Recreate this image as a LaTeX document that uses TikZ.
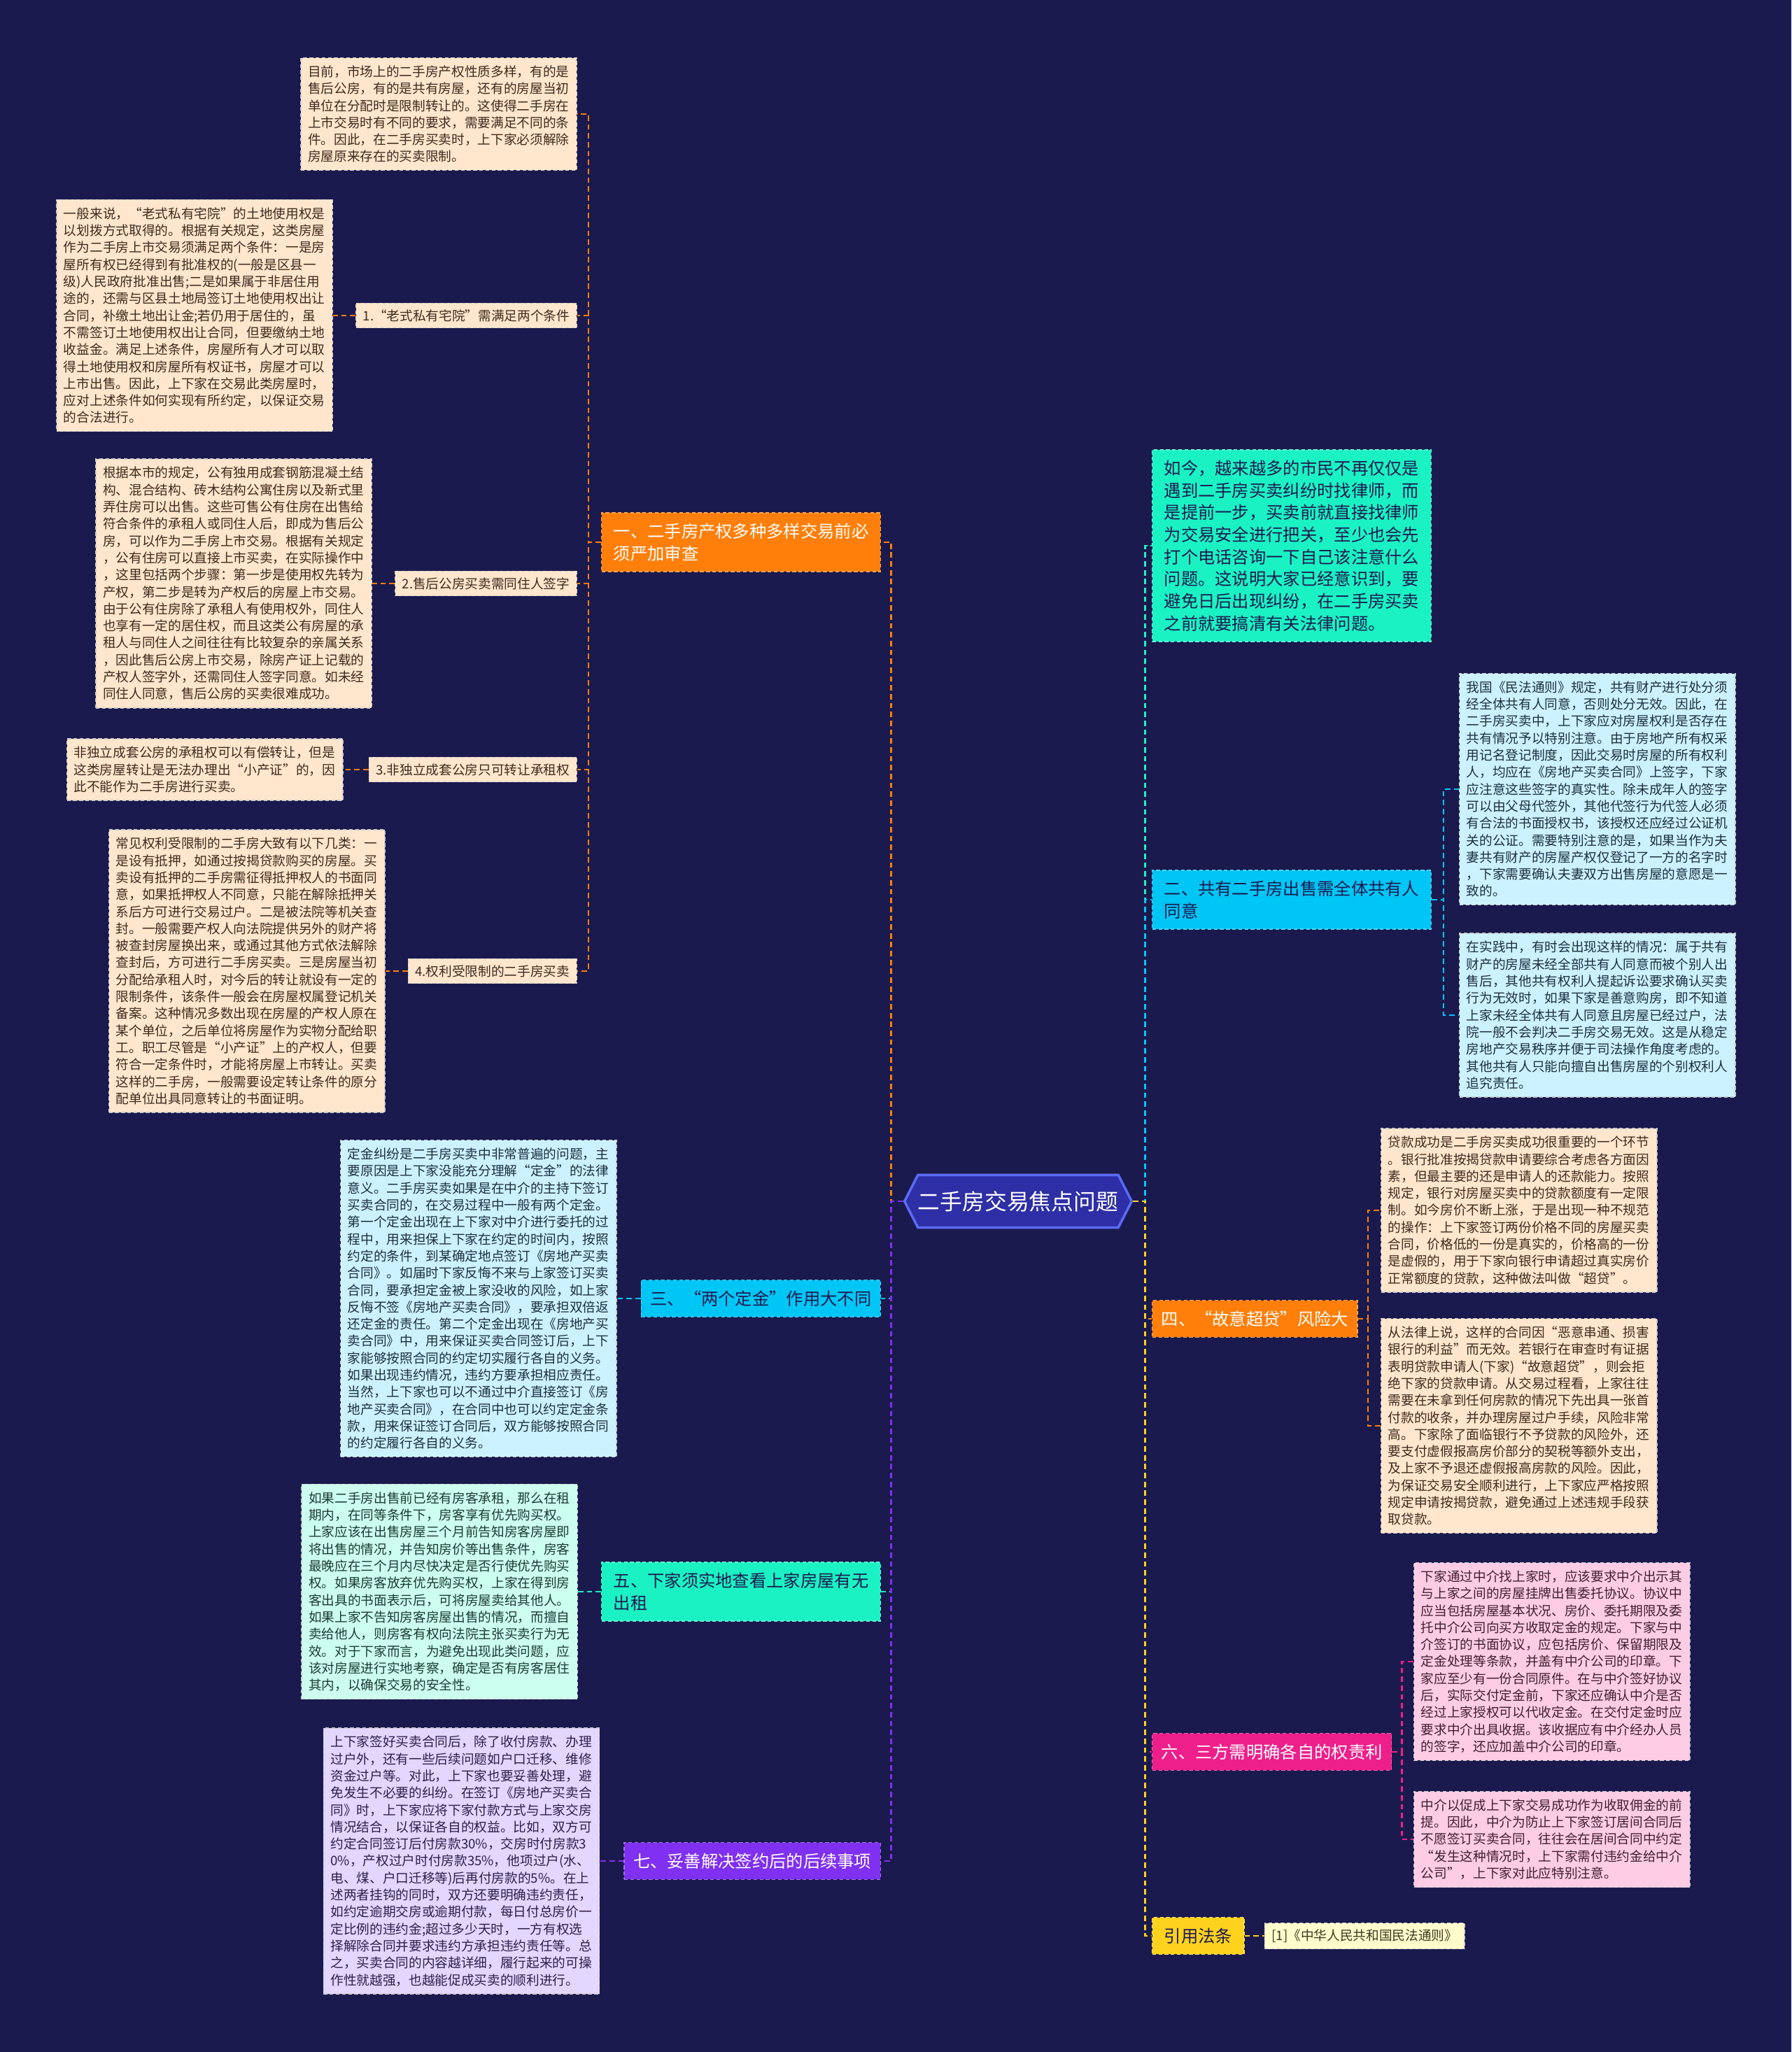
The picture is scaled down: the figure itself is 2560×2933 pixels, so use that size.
\documentclass[tikz,border=0pt]{standalone}
\usepackage{fontspec}
\setmainfont{Noto Sans CJK SC}
\usetikzlibrary{positioning, shapes.symbols}

\definecolor{bgNavy}{HTML}{1B1A4E}
\definecolor{rootFill}{HTML}{2E2EA6}
\definecolor{rootEdge}{HTML}{5B6BF5}
\definecolor{cOrange}{HTML}{FF7F0A}
\definecolor{cCyan}{HTML}{00C6F6}
\definecolor{cTurq}{HTML}{1AF2C4}
\definecolor{cPurple}{HTML}{7F30F0}
\definecolor{cMagenta}{HTML}{EE1F8A}
\definecolor{cYellow}{HTML}{FFD21E}
\definecolor{pPeach}{HTML}{FFE6CC}
\definecolor{pCyan}{HTML}{CCF2FF}
\definecolor{pMint}{HTML}{CCFFF0}
\definecolor{pLav}{HTML}{E3D6FF}
\definecolor{pPink}{HTML}{FFCCE6}
\definecolor{pYellow}{HTML}{FFFBCC}
\definecolor{tPeach}{HTML}{3D2B1F}
\definecolor{tCyan}{HTML}{1D2F3F}
\definecolor{tMint}{HTML}{1D3A33}
\definecolor{tLav}{HTML}{2D1F4A}
\definecolor{tPink}{HTML}{3F1F2F}
\definecolor{tYellow}{HTML}{3F3A1F}

\newcommand{\leaffont}{\fontsize{5.31pt}{6.91pt}\selectfont}
\newcommand{\topicfont}{\fontsize{6.91pt}{9pt}\selectfont}
\newcommand{\rootfont}{\fontsize{9.05pt}{11pt}\selectfont}

\begin{document}
\begin{tikzpicture}[
  x=0.01cm, y=-0.01cm,
  root/.style={signal, signal to=west and east, signal pointer angle=126, fill=rootFill, draw=rootEdge, line width=1pt, text=white, font=\rootfont, minimum height=0.75cm, inner xsep=0pt},
  topic/.style={rectangle, fill=#1, draw=#1!70!white, dash pattern=on 1.5pt off 1pt, inner xsep=0.17cm, inner ysep=0.15cm, align=left, font=\topicfont},
  short/.style={inner xsep=0.13cm},
  leaf/.style 2 args={rectangle, fill=#1, text=#2, draw=white!60!gray, dash pattern=on 1.5pt off 1pt, text width=3.74cm, inner xsep=0.1cm, inner ysep=0.11cm, align=left, font=\leaffont},
  item/.style 2 args={rectangle, fill=#1, text=#2, draw=white!60!gray, dash pattern=on 1.5pt off 1pt, inner xsep=0.1cm, inner ysep=0.09cm, font=\leaffont},
  link/.style={line width=0.7pt, dash pattern=on 2.2pt off 1.4pt}
]
\fill[bgNavy] (0,0) rectangle (2560,2933);
\useasboundingbox (0,0) rectangle (2560,2933);

\node[root] (root) at (1455,1717) {二手房交易焦点问题};

% left side topics
\node[topic=cOrange, text=white, anchor=east] (sec1) at (1259,775) {一、二手房产权多种多样交易前必\\须严加审查};
\node[topic=cCyan, short, text=bgNavy, anchor=east] (sec3) at (1259,1856) {三、“两个定金”作用大不同};
\node[topic=cTurq, text=bgNavy, anchor=east] (sec5) at (1259,2275) {五、下家须实地查看上家房屋有无\\出租};
\node[topic=cPurple, short, text=white, anchor=east] (sec7) at (1259,2660) {七、妥善解决签约后的后续事项};

% right side topics
\node[topic=cTurq, text=bgNavy, anchor=west] (intro) at (1646,780) {如今，越来越多的市民不再仅仅是\\遇到二手房买卖纠纷时找律师，而\\是提前一步，买卖前就直接找律师\\为交易安全进行把关，至少也会先\\打个电话咨询一下自己该注意什么\\问题。这说明大家已经意识到，要\\避免日后出现纠纷，在二手房买卖\\之前就要搞清有关法律问题。};
\node[topic=cCyan, text=bgNavy, anchor=west] (sec2) at (1646,1286) {二、共有二手房出售需全体共有人\\同意};
\node[topic=cOrange, short, text=white, anchor=west] (sec4) at (1646,1885) {四、“故意超贷”风险大};
\node[topic=cMagenta, short, text=white, anchor=west] (sec6) at (1646,2504) {六、三方需明确各自的权责利};
\node[topic=cYellow, text=bgNavy, anchor=west] (law) at (1646,2767) {引用法条};

% section one
\node[leaf={pPeach}{tPeach}, anchor=east] (s1top) at (825,163) {目前，市场上的二手房产权性质多样，有的是\\售后公房，有的是共有房屋，还有的房屋当初\\单位在分配时是限制转让的。这使得二手房在\\上市交易时有不同的要求，需要满足不同的条\\件。因此，在二手房买卖时，上下家必须解除\\房屋原来存在的买卖限制。};
\node[item={pPeach}{tPeach}, anchor=east] (s1i1) at (825,451) {1.“老式私有宅院”需满足两个条件};
\node[item={pPeach}{tPeach}, anchor=east] (s1i2) at (825,834) {2.售后公房买卖需同住人签字};
\node[item={pPeach}{tPeach}, anchor=east] (s1i3) at (825,1100) {3.非独立成套公房只可转让承租权};
\node[item={pPeach}{tPeach}, anchor=east] (s1i4) at (825,1388) {4.权利受限制的二手房买卖};

\node[leaf={pPeach}{tPeach}, left=0.32cm of s1i1] (s1d1) {一般来说，“老式私有宅院”的土地使用权是\\以划拨方式取得的。根据有关规定，这类房屋\\作为二手房上市交易须满足两个条件：一是房\\屋所有权已经得到有批准权的(一般是区县一\\级)人民政府批准出售;二是如果属于非居住用\\途的，还需与区县土地局签订土地使用权出让\\合同，补缴土地出让金;若仍用于居住的，虽\\不需签订土地使用权出让合同，但要缴纳土地\\收益金。满足上述条件，房屋所有人才可以取\\得土地使用权和房屋所有权证书，房屋才可以\\上市出售。因此，上下家在交易此类房屋时，\\应对上述条件如何实现有所约定，以保证交易\\的合法进行。};
\node[leaf={pPeach}{tPeach}, left=0.32cm of s1i2] (s1d2) {根据本市的规定，公有独用成套钢筋混凝土结\\构、混合结构、砖木结构公寓住房以及新式里\\弄住房可以出售。这些可售公有住房在出售给\\符合条件的承租人或同住人后，即成为售后公\\房，可以作为二手房上市交易。根据有关规定\\，公有住房可以直接上市买卖，在实际操作中\\，这里包括两个步骤：第一步是使用权先转为\\产权，第二步是转为产权后的房屋上市交易。\\由于公有住房除了承租人有使用权外，同住人\\也享有一定的居住权，而且这类公有房屋的承\\租人与同住人之间往往有比较复杂的亲属关系\\，因此售后公房上市交易，除房产证上记载的\\产权人签字外，还需同住人签字同意。如未经\\同住人同意，售后公房的买卖很难成功。};
\node[leaf={pPeach}{tPeach}, left=0.36cm of s1i3] (s1d3) {非独立成套公房的承租权可以有偿转让，但是\\这类房屋转让是无法办理出“小产证”的，因\\此不能作为二手房进行买卖。};
\node[leaf={pPeach}{tPeach}, left=0.32cm of s1i4] (s1d4) {常见权利受限制的二手房大致有以下几类：一\\是设有抵押，如通过按揭贷款购买的房屋。买\\卖设有抵押的二手房需征得抵押权人的书面同\\意，如果抵押权人不同意，只能在解除抵押关\\系后方可进行交易过户。二是被法院等机关查\\封。一般需要产权人向法院提供另外的财产将\\被查封房屋换出来，或通过其他方式依法解除\\查封后，方可进行二手房买卖。三是房屋当初\\分配给承租人时，对今后的转让就设有一定的\\限制条件，该条件一般会在房屋权属登记机关\\备案。这种情况多数出现在房屋的产权人原在\\某个单位，之后单位将房屋作为实物分配给职\\工。职工尽管是“小产证”上的产权人，但要\\符合一定条件时，才能将房屋上市转让。买卖\\这样的二手房，一般需要设定转让条件的原分\\配单位出具同意转让的书面证明。};

% sections three, five, seven
\node[leaf={pCyan}{tCyan}, left=0.34cm of sec3] (s3d) {定金纠纷是二手房买卖中非常普遍的问题，主\\要原因是上下家没能充分理解“定金”的法律\\意义。二手房买卖如果是在中介的主持下签订\\买卖合同的，在交易过程中一般有两个定金。\\第一个定金出现在上下家对中介进行委托的过\\程中，用来担保上下家在约定的时间内，按照\\约定的条件，到某确定地点签订《房地产买卖\\合同》。如届时下家反悔不来与上家签订买卖\\合同，要承担定金被上家没收的风险，如上家\\反悔不签《房地产买卖合同》，要承担双倍返\\还定金的责任。第二个定金出现在《房地产买\\卖合同》中，用来保证买卖合同签订后，上下\\家能够按照合同的约定切实履行各自的义务。\\如果出现违约情况，违约方要承担相应责任。\\当然，上下家也可以不通过中介直接签订《房\\地产买卖合同》，在合同中也可以约定定金条\\款，用来保证签订合同后，双方能够按照合同\\的约定履行各自的义务。};
\node[leaf={pMint}{tMint}, left=0.33cm of sec5] (s5d) {如果二手房出售前已经有房客承租，那么在租\\期内，在同等条件下，房客享有优先购买权。\\上家应该在出售房屋三个月前告知房客房屋即\\将出售的情况，并告知房价等出售条件，房客\\最晚应在三个月内尽快决定是否行使优先购买\\权。如果房客放弃优先购买权，上家在得到房\\客出具的书面表示后，可将房屋卖给其他人。\\如果上家不告知房客房屋出售的情况，而擅自\\卖给他人，则房客有权向法院主张买卖行为无\\效。对于下家而言，为避免出现此类问题，应\\该对房屋进行实地考察，确定是否有房客居住\\其内，以确保交易的安全性。};
\node[leaf={pLav}{tLav}, left=0.34cm of sec7] (s7d) {上下家签好买卖合同后，除了收付房款、办理\\过户外，还有一些后续问题如户口迁移、维修\\资金过户等。对此，上下家也要妥善处理，避\\免发生不必要的纠纷。在签订《房地产买卖合\\同》时，上下家应将下家付款方式与上家交房\\情况结合，以保证各自的权益。比如，双方可\\约定合同签订后付房款30\%，交房时付房款3\\0\%，产权过户时付房款35\%，他项过户(水、\\电、煤、户口迁移等)后再付房款的5\%。在上\\述两者挂钩的同时，双方还要明确违约责任，\\如约定逾期交房或逾期付款，每日付总房价一\\定比例的违约金;超过多少天时，一方有权选\\择解除合同并要求违约方承担违约责任等。总\\之，买卖合同的内容越详细，履行起来的可操\\作性就越强，也越能促成买卖的顺利进行。};

% right side details
\node[leaf={pCyan}{tCyan}, anchor=west] (s2d1) at (2085,1128) {我国《民法通则》规定，共有财产进行处分须\\经全体共有人同意，否则处分无效。因此，在\\二手房买卖中，上下家应对房屋权利是否存在\\共有情况予以特别注意。由于房地产所有权采\\用记名登记制度，因此交易时房屋的所有权利\\人，均应在《房地产买卖合同》上签字，下家\\应注意这些签字的真实性。除未成年人的签字\\可以由父母代签外，其他代签行为代签人必须\\有合法的书面授权书，该授权还应经过公证机\\关的公证。需要特别注意的是，如果当作为夫\\妻共有财产的房屋产权仅登记了一方的名字时\\，下家需要确认夫妻双方出售房屋的意愿是一\\致的。};
\node[leaf={pCyan}{tCyan}, anchor=west] (s2d2) at (2085,1451) {在实践中，有时会出现这样的情况：属于共有\\财产的房屋未经全部共有人同意而被个别人出\\售后，其他共有权利人提起诉讼要求确认买卖\\行为无效时，如果下家是善意购房，即不知道\\上家未经全体共有人同意且房屋已经过户，法\\院一般不会判决二手房交易无效。这是从稳定\\房地产交易秩序并便于司法操作角度考虑的。\\其他共有人只能向擅自出售房屋的个别权利人\\追究责任。};
\node[leaf={pPeach}{tPeach}, anchor=west] (s4d1) at (1973,1730) {贷款成功是二手房买卖成功很重要的一个环节\\。银行批准按揭贷款申请要综合考虑各方面因\\素，但最主要的还是申请人的还款能力。按照\\规定，银行对房屋买卖中的贷款额度有一定限\\制。如今房价不断上涨，于是出现一种不规范\\的操作：上下家签订两份价格不同的房屋买卖\\合同，价格低的一份是真实的，价格高的一份\\是虚假的，用于下家向银行申请超过真实房价\\正常额度的贷款，这种做法叫做“超贷”。};
\node[leaf={pPeach}{tPeach}, anchor=west] (s4d2) at (1973,2038) {从法律上说，这样的合同因“恶意串通、损害\\银行的利益”而无效。若银行在审查时有证据\\表明贷款申请人(下家)“故意超贷”，则会拒\\绝下家的贷款申请。从交易过程看，上家往往\\需要在未拿到任何房款的情况下先出具一张首\\付款的收条，并办理房屋过户手续，风险非常\\高。下家除了面临银行不予贷款的风险外，还\\要支付虚假报高房价部分的契税等额外支出，\\及上家不予退还虚假报高房款的风险。因此，\\为保证交易安全顺利进行，上下家应严格按照\\规定申请按揭贷款，避免通过上述违规手段获\\取贷款。};
\node[leaf={pPink}{tPink}, anchor=west] (s6d1) at (2020,2375) {下家通过中介找上家时，应该要求中介出示其\\与上家之间的房屋挂牌出售委托协议。协议中\\应当包括房屋基本状况、房价、委托期限及委\\托中介公司向买方收取定金的规定。下家与中\\介签订的书面协议，应包括房价、保留期限及\\定金处理等条款，并盖有中介公司的印章。下\\家应至少有一份合同原件。在与中介签好协议\\后，实际交付定金前，下家还应确认中介是否\\经过上家授权可以代收定金。在交付定金时应\\要求中介出具收据。该收据应有中介经办人员\\的签字，还应加盖中介公司的印章。};
\node[leaf={pPink}{tPink}, anchor=west] (s6d2) at (2020,2629) {中介以促成上下家交易成功作为收取佣金的前\\提。因此，中介为防止上下家签订居间合同后\\不愿签订买卖合同，往往会在居间合同中约定\\“发生这种情况时，上下家需付违约金给中介\\公司”，上下家对此应特别注意。};
\node[item={pYellow}{tYellow}, right=0.28cm of law] (lawref) {[1]《中华人民共和国民法通则》};

% connectors from the root
\draw[link, cOrange] (root.west) -- ++(-17,0) |- (sec1.east);
\draw[link, cCyan] (root.west) -- ++(-17,0) |- (sec3.east);
\draw[link, cTurq] (root.west) -- ++(-17,0) |- (sec5.east);
\draw[link, cPurple] (root.west) -- ++(-17,0) |- (sec7.east);
\draw[link, cTurq] (root.east) -- ++(17,0) |- (intro.west);
\draw[link, cCyan] (root.east) -- ++(17,0) |- (sec2.west);
\draw[link, cOrange] (root.east) -- ++(17,0) |- (sec4.west);
\draw[link, cMagenta] (root.east) -- ++(17,0) |- (sec6.west);
\draw[link, cYellow] (root.east) -- ++(17,0) |- (law.west);

% connectors to details
\foreach \n in {s1top,s1i1,s1i2,s1i3,s1i4}
  \draw[link, cOrange] (sec1.west) -- ++(-18,0) |- (\n.east);
\foreach \n in {1,...,4}
  \draw[link, cOrange] (s1i\n.west) -- (s1d\n.east);
\draw[link, cCyan] (sec3.west) -- (s3d.east);
\draw[link, cTurq] (sec5.west) -- (s5d.east);
\draw[link, cPurple] (sec7.west) -- (s7d.east);
\foreach \n in {s2d1,s2d2}
  \draw[link, cCyan] (sec2.east) -- ++(17,0) |- (\n.west);
\foreach \n in {s4d1,s4d2}
  \draw[link, cOrange] (sec4.east) -- ++(14,0) |- (\n.west);
\foreach \n in {s6d1,s6d2}
  \draw[link, cMagenta] (sec6.east) -- ++(14,0) |- (\n.west);
\draw[link, cYellow] (law.east) -- (lawref.west);
\end{tikzpicture}
\end{document}
